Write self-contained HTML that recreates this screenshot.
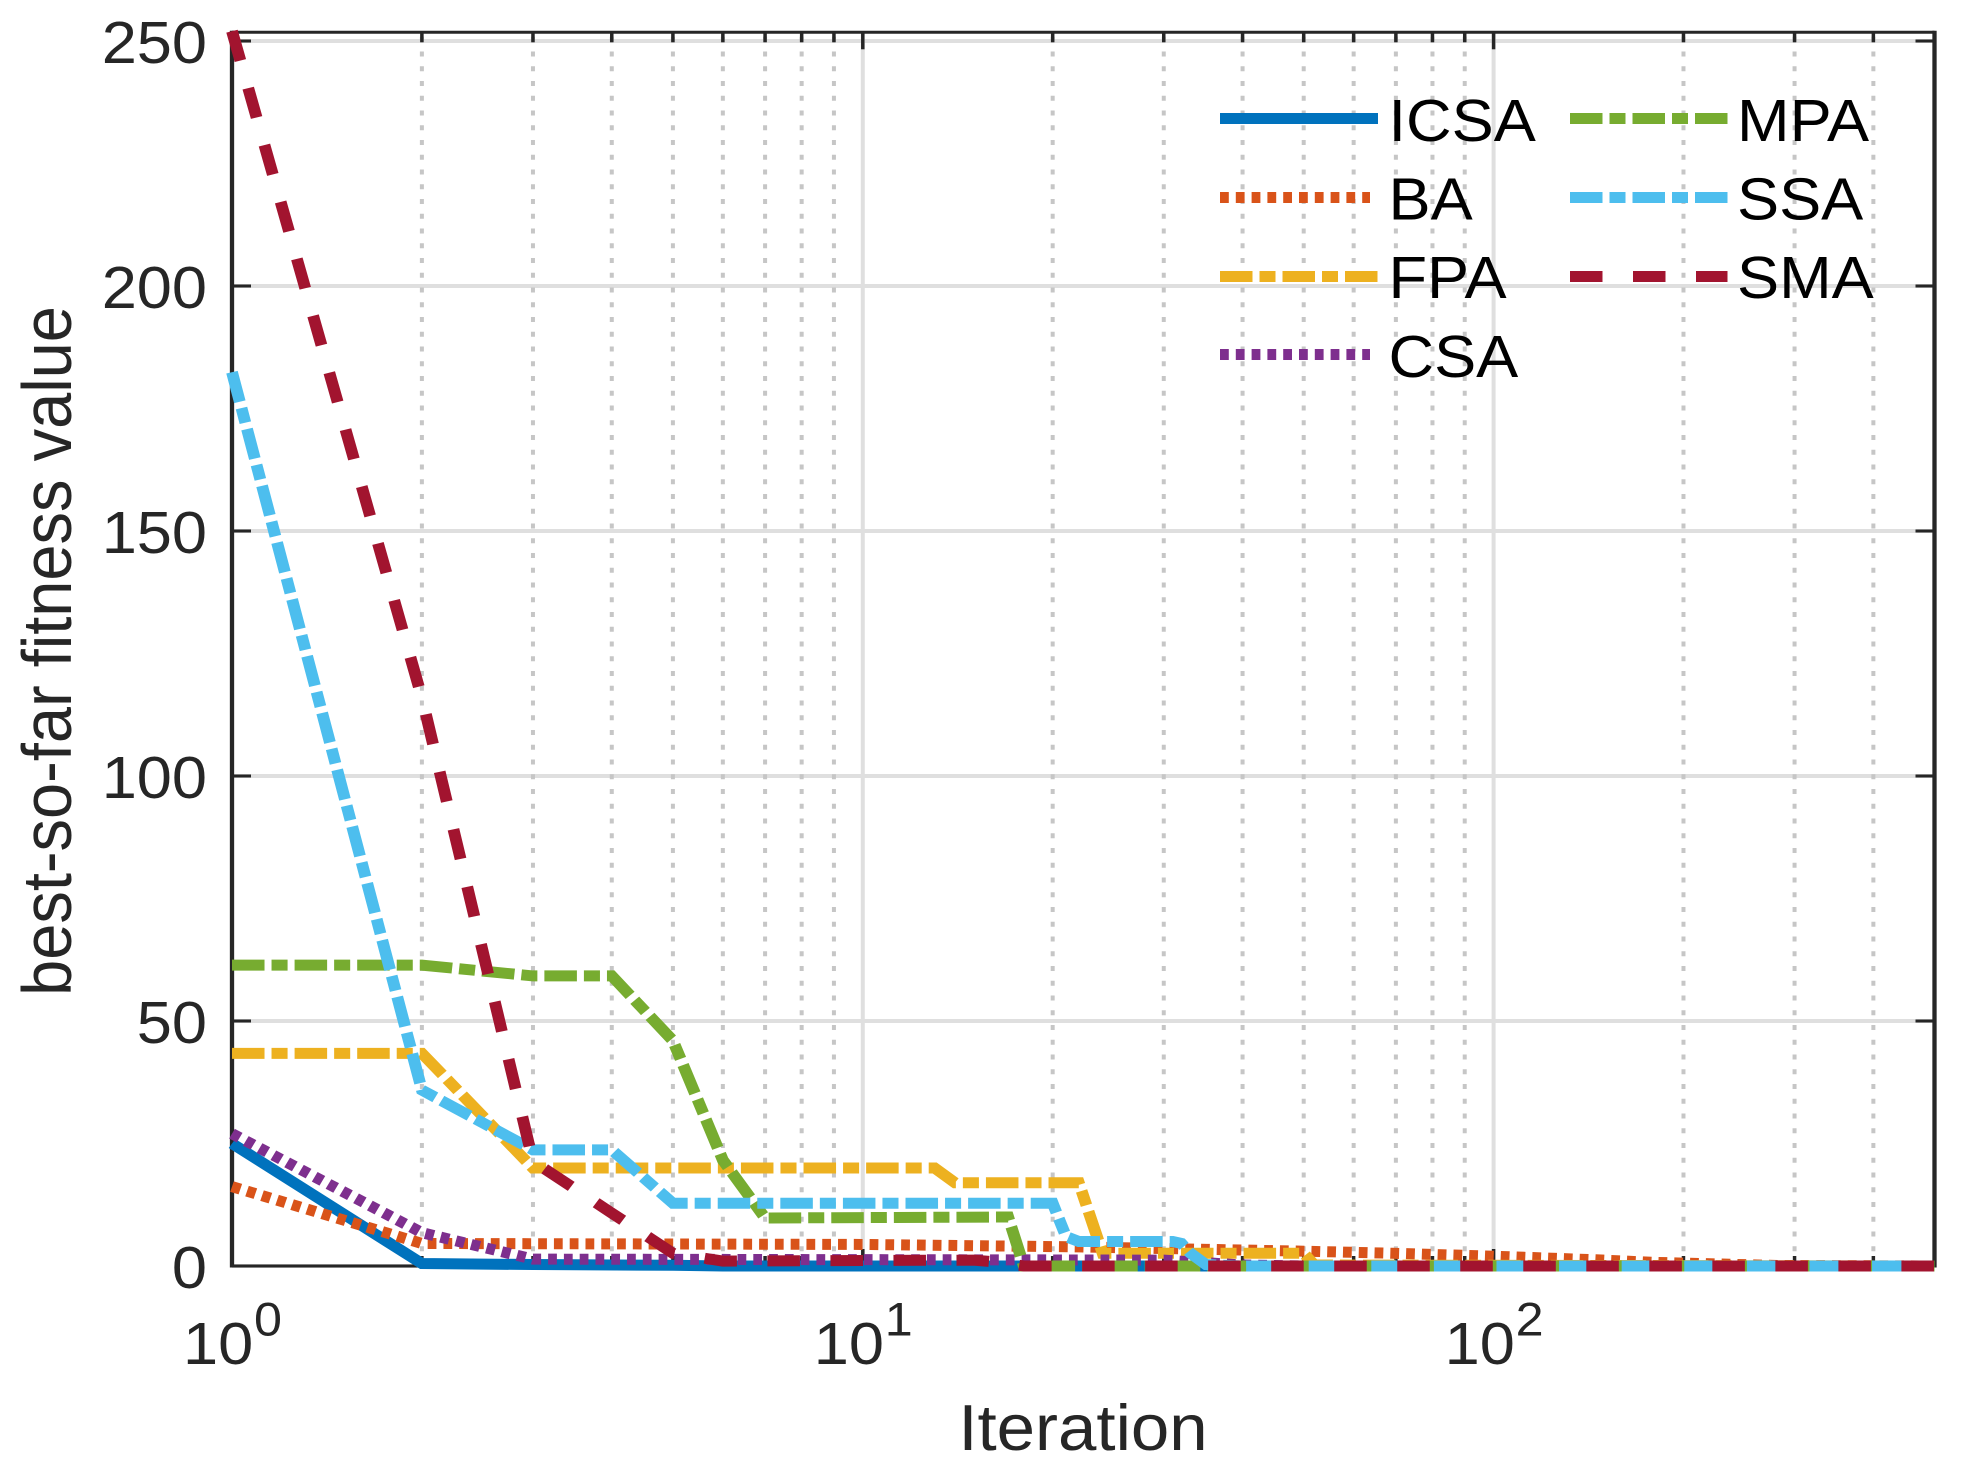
<!DOCTYPE html>
<html lang="en">
<head>
<meta charset="utf-8">
<title>Best-so-far fitness convergence chart</title>
<style>
html,body{margin:0;padding:0;background:#fff;}
svg{display:block;}
text{font-family:"Liberation Sans",Arial,sans-serif;}
</style>
</head>
<body>
<svg id="chart" xmlns="http://www.w3.org/2000/svg" width="1965" height="1471" viewBox="0 0 1965 1471">
  <rect x="0" y="0" width="1965" height="1471" fill="#ffffff"/>
  <g id="grid"></g>
  <g id="axes"></g>
  <g id="tick-labels" fill="#262626"></g>
  <text transform="translate(1083,1450) scale(1.07,1)" text-anchor="middle" font-size="64.5" fill="#262626">Iteration</text>
  <text transform="translate(71,651) scale(1.07,1) rotate(-90)" text-anchor="middle" font-size="65" fill="#262626">best-so-far fitness value</text>
  <g id="series" transform="scale(1.07,1)" fill="none" stroke-width="11" stroke-linejoin="miter" stroke-linecap="butt"></g>
  <g>
    <g>
      <line x1="1220" x2="1378" y1="118.5" y2="118.5" stroke="#0072BD" stroke-width="11"/>
      <text transform="translate(1388.5,141) scale(1.07,1)" font-size="59" fill="#000">ICSA</text>
    </g>
    <g>
      <line x1="1220" x2="1370" y1="197.5" y2="197.5" stroke="#D95319" stroke-width="11" stroke-dasharray="8.8 7"/>
      <text transform="translate(1388.5,219.5) scale(1.07,1)" font-size="59" fill="#000">BA</text>
    </g>
    <g>
      <line x1="1220" x2="1378" y1="276.5" y2="276.5" stroke="#EDB120" stroke-width="11" stroke-dasharray="32.5 7 16 7"/>
      <text transform="translate(1388.5,298) scale(1.07,1)" font-size="59" fill="#000">FPA</text>
    </g>
    <g>
      <line x1="1220" x2="1370" y1="354.5" y2="354.5" stroke="#7E2F8E" stroke-width="11" stroke-dasharray="8.8 7"/>
      <text transform="translate(1388.5,377) scale(1.07,1)" font-size="59" fill="#000">CSA</text>
    </g>
    <g>
      <line x1="1570" x2="1727.5" y1="118.5" y2="118.5" stroke="#77AC30" stroke-width="11" stroke-dasharray="32.5 7 16 7"/>
      <text transform="translate(1737,141) scale(1.07,1)" font-size="59" fill="#000">MPA</text>
    </g>
    <g>
      <line x1="1570" x2="1727.5" y1="197.5" y2="197.5" stroke="#4DBEEE" stroke-width="11" stroke-dasharray="32.5 7 16 7"/>
      <text transform="translate(1737,219.5) scale(1.07,1)" font-size="59" fill="#000">SSA</text>
    </g>
    <g>
      <line x1="1570" x2="1727.5" y1="276.5" y2="276.5" stroke="#A2142F" stroke-width="11" stroke-dasharray="32.5 30.5"/>
      <text transform="translate(1737,298) scale(1.07,1)" font-size="59" fill="#000">SMA</text>
    </g>
  </g>
</svg>
<script>
// Chart data
const yTicks = [0, 50, 100, 150, 200, 250];
const xDecades = [0, 1, 2];
const xDecadeBase = ['10', '10', '10'];
const xDecadeExponent = ['0', '1', '2'];
const xMinorMultipliers = [2, 3, 4, 5, 6, 7, 8, 9];
const xLimits = [1, 500];
const yLimits = [0, 250];

const icsaIterations = [1, 2, 3, 5, 6, 500];
const icsaValues = [25, 0.5, 0.3, 0.15, 0, 0];
const baIterations = [1, 2, 10, 22, 35, 51, 69, 100, 143, 179, 284, 500];
const baValues = [16.2, 4.6, 4.4, 3.9, 3.4, 3.0, 2.6, 2.0, 1.3, 0.75, 0.1, 0];
const fpaIterations = [1, 2, 3, 13, 14, 22, 24, 50, 52, 500];
const fpaValues = [43.4, 43.4, 20, 20, 17, 17, 2.6, 2.6, 0.2, 0];
const csaIterations = [1, 2, 3, 30, 40, 50, 500];
const csaValues = [27, 6.8, 1.4, 1.2, 0.2, 0, 0];
const mpaIterations = [1, 2, 3, 4, 5, 6, 7, 17, 18, 500];
const mpaValues = [61.4, 61.4, 59.2, 59.2, 46, 21.6, 9.8, 10, 0, 0];
const ssaIterations = [1, 2, 3, 4, 5, 20, 21, 22, 31, 32, 33, 35, 40, 500];
const ssaValues = [182.4, 35.9, 23.7, 23.7, 12.8, 12.8, 6, 5, 5, 4.6, 2.7, 0.3, 0, 0];
const smaIterations = [1, 2, 3, 4, 5, 6, 15, 16, 18, 500];
const smaValues = [252, 116, 21.4, 10.8, 2.6, 1, 1.2, 0.9, 0, 0];

// Axis functions
const plotLeft = 232;
const plotRight = 1934.5;
const plotTop = 32.3;
const plotBottom = 1266;
const yAtMax = 41;
const stretch = 1.07;
const NS = 'http://www.w3.org/2000/svg';

function xScale(v) {
  const span = Math.log10(xLimits[1]) - Math.log10(xLimits[0]);
  return plotLeft + (plotRight - plotLeft) * (Math.log10(v) - Math.log10(xLimits[0])) / span;
}
function yScale(v) {
  return plotBottom + (yAtMax - plotBottom) * (v - yLimits[0]) / (yLimits[1] - yLimits[0]);
}
function make(tag, parent, attrs) {
  const node = document.createElementNS(NS, tag);
  Object.keys(attrs).forEach(function (k) { node.setAttribute(k, attrs[k]); });
  parent.appendChild(node);
  return node;
}

const gridGroup = document.getElementById('grid');
const axesGroup = document.getElementById('axes');
const labelGroup = document.getElementById('tick-labels');
const seriesGroup = document.getElementById('series');

// Horizontal major grid and y ticks
yTicks.forEach(function (t) {
  const y = yScale(t);
  const gl = make('line', gridGroup, {x1: plotLeft, x2: plotRight, y1: y, y2: y, stroke: '#dfdfdf', 'stroke-width': 4});
  
  
  const tl = make('line', axesGroup, {x1: plotLeft, x2: plotLeft + 19, y1: y, y2: y, stroke: '#262626', 'stroke-width': 3});
  
  
  const tr = make('line', axesGroup, {x1: plotRight - 19, x2: plotRight, y1: y, y2: y, stroke: '#262626', 'stroke-width': 3});
  
  
  const lab = make('text', labelGroup, {transform: 'translate(207,' + (y + 22) + ') scale(1.07,1)', 'text-anchor': 'end', 'font-size': 59});
  
  
  lab.textContent = String(t);
});

// Vertical grid and x ticks
xDecades.forEach(function (d, idx) {
  const base = Math.pow(10, d);
  const xMajor = xScale(base);
  if (idx > 0) {
    const gl = make('line', gridGroup, {x1: xMajor, x2: xMajor, y1: plotBottom, y2: plotTop, stroke: '#dfdfdf', 'stroke-width': 4});
    
    
    const tt = make('line', axesGroup, {x1: xMajor, x2: xMajor, y1: plotTop, y2: plotTop + 17, stroke: '#262626', 'stroke-width': 3.5});
    
    
    const tb = make('line', axesGroup, {x1: xMajor, x2: xMajor, y1: plotBottom, y2: plotBottom - 17, stroke: '#262626', 'stroke-width': 3.5});
    
    
  }
  const baseLab = make('text', labelGroup, {transform: 'translate(' + (xMajor - 49) + ',1364) scale(1.07,1)', 'font-size': 59});
  
  
  baseLab.textContent = xDecadeBase[idx];
  const expLab = make('text', labelGroup, {transform: 'translate(' + (xMajor + 22) + ',1335.5) scale(1.07,1)', 'font-size': 47});
  
  
  expLab.textContent = xDecadeExponent[idx];
  xMinorMultipliers.forEach(function (m) {
    const v = base * m;
    if (v >= xLimits[1]) { return; }
    const x = xScale(v);
    const g = make('line', gridGroup, {x1: x, x2: x, y1: plotBottom, y2: plotTop, stroke: '#c6c6c6', 'stroke-width': 4, 'stroke-dasharray': '5 9.75'});
    
    
    const t1 = make('line', axesGroup, {x1: x, x2: x, y1: plotTop, y2: plotTop + 10, stroke: '#262626', 'stroke-width': 3.5});
    
    
    const t2 = make('line', axesGroup, {x1: x, x2: x, y1: plotBottom, y2: plotBottom - 10, stroke: '#262626', 'stroke-width': 3.5});
    
    
  });
});

// Axis box
const axisLeft = make('line', axesGroup, {x1: plotLeft, x2: plotLeft, y1: plotTop - 1.5, y2: plotBottom + 1.5, stroke: '#262626', 'stroke-width': 4.3});


const axisRight = make('line', axesGroup, {x1: plotRight, x2: plotRight, y1: plotTop - 1.5, y2: plotBottom + 1.5, stroke: '#262626', 'stroke-width': 4.3});


const axisTop = make('line', axesGroup, {x1: plotLeft, x2: plotRight, y1: plotTop, y2: plotTop, stroke: '#262626', 'stroke-width': 3});


const axisBottom = make('line', axesGroup, {x1: plotLeft, x2: plotRight, y1: plotBottom, y2: plotBottom, stroke: '#262626', 'stroke-width': 3});



// Series lines
function seriesPoints(iters, vals) {
  return iters.map(function (it, i) {
    return (xScale(it) / stretch).toFixed(2) + ',' + yScale(vals[i]).toFixed(2);
  }).join(' ');
}
const dotted = '8.2 6.55';
const dashDot = '30.4 6.55 15 6.55';
const dashed = '30.4 28.5';

const icsaLine = make('polyline', seriesGroup, {points: seriesPoints(icsaIterations, icsaValues), stroke: '#0072BD'});


const baLine = make('polyline', seriesGroup, {points: seriesPoints(baIterations, baValues), stroke: '#D95319', 'stroke-dasharray': dotted});


const fpaLine = make('polyline', seriesGroup, {points: seriesPoints(fpaIterations, fpaValues), stroke: '#EDB120', 'stroke-dasharray': dashDot});


const csaLine = make('polyline', seriesGroup, {points: seriesPoints(csaIterations, csaValues), stroke: '#7E2F8E', 'stroke-dasharray': dotted});


const mpaLine = make('polyline', seriesGroup, {points: seriesPoints(mpaIterations, mpaValues), stroke: '#77AC30', 'stroke-dasharray': dashDot});


const ssaLine = make('polyline', seriesGroup, {points: seriesPoints(ssaIterations, ssaValues), stroke: '#4DBEEE', 'stroke-dasharray': dashDot});


const smaLine = make('polyline', seriesGroup, {points: seriesPoints(smaIterations, smaValues), stroke: '#A2142F', 'stroke-dasharray': dashed});


</script>
</body>
</html>
